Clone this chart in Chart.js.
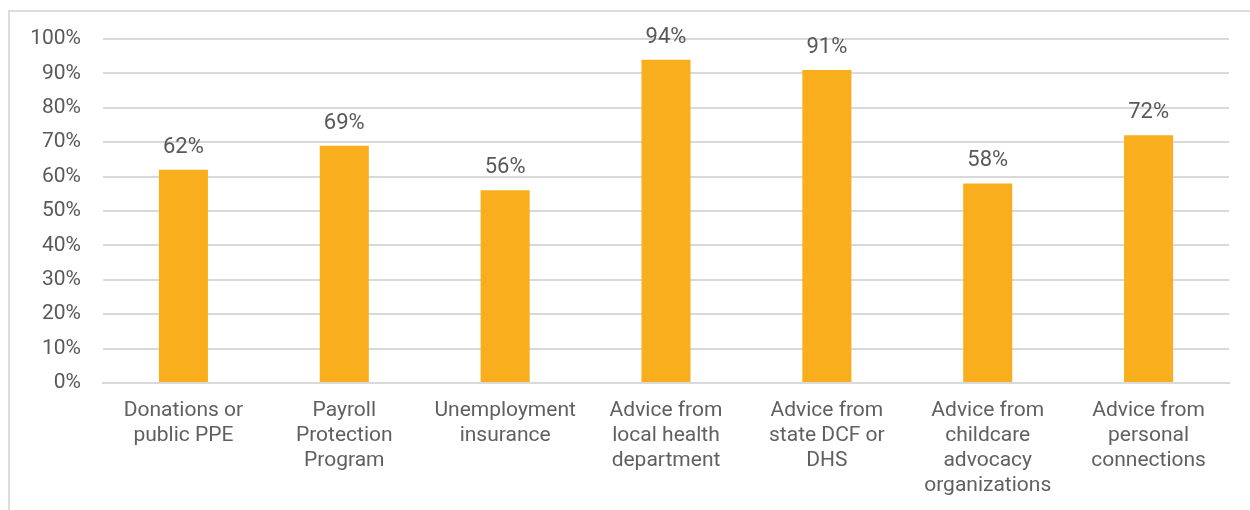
<!DOCTYPE html>
<html>
<head>
<meta charset="utf-8">
<script src="https://cdn.jsdelivr.net/npm/chart.js@4"></script>
<style>
  html, body { margin: 0; padding: 0; background: #fff; }
  #wrap { position: relative; width: 1250px; height: 510px; }
  #frame {
    position: absolute; left: 8px; top: 10px; right: -4px; bottom: -4px;
    border-top: 2px solid #dcdcdc; border-left: 2px solid #dcdcdc;
  }
  canvas { position: absolute; left: 0; top: 0; }
</style>
</head>
<body>
<div id="wrap">
  <div id="frame"></div>
  <canvas id="supportChart" width="1250" height="510"></canvas>
</div>
<script>
// ---- data ----
const categories = [
  ['Donations or', 'public PPE'],
  ['Payroll', 'Protection', 'Program'],
  ['Unemployment', 'insurance'],
  ['Advice from', 'local health', 'department'],
  ['Advice from', 'state DCF or', 'DHS'],
  ['Advice from', 'childcare', 'advocacy', 'organizations'],
  ['Advice from', 'personal', 'connections']
];
const percentValues = [62, 69, 56, 94, 91, 58, 72];
const yTicks = [0, 10, 20, 30, 40, 50, 60, 70, 80, 90, 100];

const TEXT = '#595959';
const FONT = 'Roboto, "Noto Sans", sans-serif';

// value labels drawn above each bar
const barLabels = {
  id: 'barLabels',
  afterDatasetsDraw(chart) {
    const ctx = chart.ctx;
    const meta = chart.getDatasetMeta(0);
    ctx.save();
    ctx.font = '22px ' + FONT;
    ctx.fillStyle = TEXT;
    ctx.textAlign = 'center';
    ctx.textBaseline = 'alphabetic';
    meta.data.forEach((bar, i) => {
      ctx.fillText(percentValues[i] + '%', bar.x, bar.y - 17);
    });
    ctx.restore();
  }
};

new Chart(document.getElementById('supportChart'), {
  type: 'bar',
  data: {
    labels: categories,
    datasets: [{
      data: percentValues,
      backgroundColor: '#F9AE1E',
      borderWidth: 0,
      categoryPercentage: 1,
      barPercentage: 0.305
    }]
  },
  options: {
    responsive: false,
    animation: false,
    layout: { padding: { top: 39, right: 21, left: 0, bottom: 0 } },
    plugins: { legend: { display: false }, tooltip: { enabled: false } },
    scales: {
      x: {
        grid: { display: false, drawTicks: false },
        border: { color: '#d9d9d9', width: 2 },
        ticks: {
          color: '#606060', padding: 15, maxRotation: 0, autoSkip: false,
          font: { family: FONT, size: 21, lineHeight: 1.2 }
        },
        afterFit: s => { s.height = 127; }
      },
      y: {
        min: 0, max: 100,
        afterBuildTicks: s => { s.ticks = yTicks.map(v => ({ value: v })); },
        grid: { color: '#d9d9d9', lineWidth: 2, drawTicks: false },
        border: { display: false },
        ticks: {
          color: TEXT, padding: 22,
          font: { family: FONT, size: 21 },
          callback: v => v + '%'
        },
        afterFit: s => { s.width = 103; }
      }
    }
  },
  plugins: [barLabels]
});
</script>
</body>
</html>
